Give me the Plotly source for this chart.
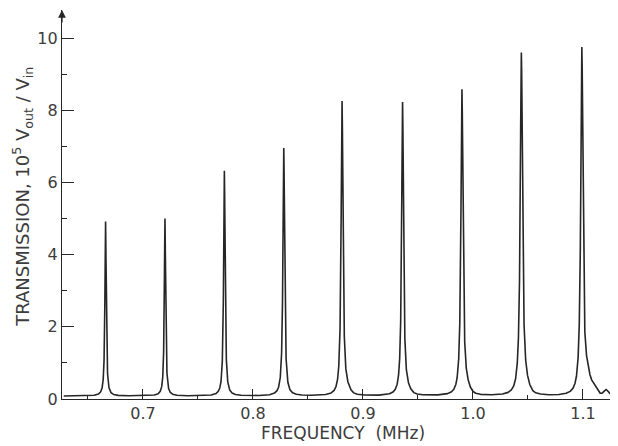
import numpy as np
import plotly.graph_objects as go

# Peak data (height above the baseline)
peak_freq_mhz = [0.666, 0.720, 0.774, 0.828, 0.881, 0.936, 0.990, 1.044, 1.099]
peak_height = [4.84, 4.92, 6.24, 6.87, 8.12, 8.10, 8.43, 9.44, 9.66]
peak_halfwidth = [0.0007, 0.0007, 0.0008, 0.0009, 0.0010, 0.0010, 0.0011, 0.0012, 0.0012]

# small shoulder features on the baseline
shoulder_freq = [0.885, 0.940, 0.994, 1.048, 1.104, 1.109, 1.121]
shoulder_height = [0.12, 0.10, 0.15, 0.18, 0.40, 0.25, 0.15]
shoulder_width = [0.003, 0.003, 0.003, 0.003, 0.0018, 0.003, 0.002]
baseline_level = 0.08

x_ticks = [0.7, 0.8, 0.9, 1.0, 1.1]
y_ticks = [0, 2, 4, 6, 8, 10]
x_range = [0.6264, 1.1264]
y_range = [0, 10.78]

f = np.linspace(0.628, 1.126, 12000)
s = np.full_like(f, baseline_level)
for c, h, g in zip(peak_freq_mhz, peak_height, peak_halfwidth):
    s += h * g**2 / ((f - c) ** 2 + g**2)
for c, h, g in zip(shoulder_freq, shoulder_height, shoulder_width):
    s += h * np.exp(-0.5 * ((f - c) / g) ** 2)

ink = "#262626"
txt = "#3c3c3c"
font = "DejaVu Sans, Verdana, sans-serif"

fig = go.Figure()
fig.add_trace(go.Scatter(x=f, y=s, mode="lines",
                         line=dict(color=ink, width=1.6),
                         hoverinfo="skip", showlegend=False))

# the page body adds an 8px offset, so the figure is 8px smaller per side
fig.update_layout(
    width=610, height=438,
    margin=dict(l=54, r=6, t=2, b=47),
    paper_bgcolor="white", plot_bgcolor="white",
    font=dict(family=font, size=16, color=txt),
    showlegend=False,
)
fig.update_xaxes(
    range=x_range, tickvals=x_ticks, ticktext=[f"{v:.1f}" for v in x_ticks],
    showgrid=False, zeroline=False,
    showline=True, linecolor=ink, linewidth=1.3,
    ticks="inside", ticklen=10, tickwidth=1.1, tickcolor=ink,
    minor=dict(tickvals=[0.65, 0.75, 0.85, 0.95, 1.05], ticks="inside",
               ticklen=4, tickwidth=1, tickcolor=ink),
    tickfont=dict(size=16, color=txt, family=font),
)
fig.update_yaxes(
    range=y_range, tickvals=y_ticks, ticktext=[str(v) for v in y_ticks],
    showgrid=False, zeroline=False,
    showline=True, linecolor=ink, linewidth=1.3,
    ticks="inside", ticklen=12, tickwidth=1.1, tickcolor=ink,
    minor=dict(tickvals=[1, 3, 5, 7, 9], ticks="inside",
               ticklen=5, tickwidth=1, tickcolor=ink),
    tickfont=dict(size=16, color=txt, family=font),
)

fig.add_annotation(
    xref="paper", yref="paper", x=0, y=0.52, xshift=-40,
    text="TRANSMISSION, 10<sup>5</sup> V<sub>out</sub> / V<sub>in</sub>",
    textangle=-90, showarrow=False, xanchor="center", yanchor="middle",
    font=dict(size=18, color=txt, family=font),
)
fig.add_annotation(
    xref="paper", yref="paper", x=0.511, y=0, yshift=-34,
    text="FREQUENCY  (MHz)", showarrow=False,
    xanchor="center", yanchor="middle",
    font=dict(size=17, color=txt, family=font),
)
# arrowhead at top of the y axis
fig.add_annotation(
    xref="x", yref="y", x=x_range[0], y=y_range[1],
    ax=0, ay=14, axref="pixel", ayref="pixel",
    showarrow=True, arrowhead=2, arrowsize=1.2, arrowwidth=1.3,
    arrowcolor=ink, text="",
)

fig.write_html("out.html")
